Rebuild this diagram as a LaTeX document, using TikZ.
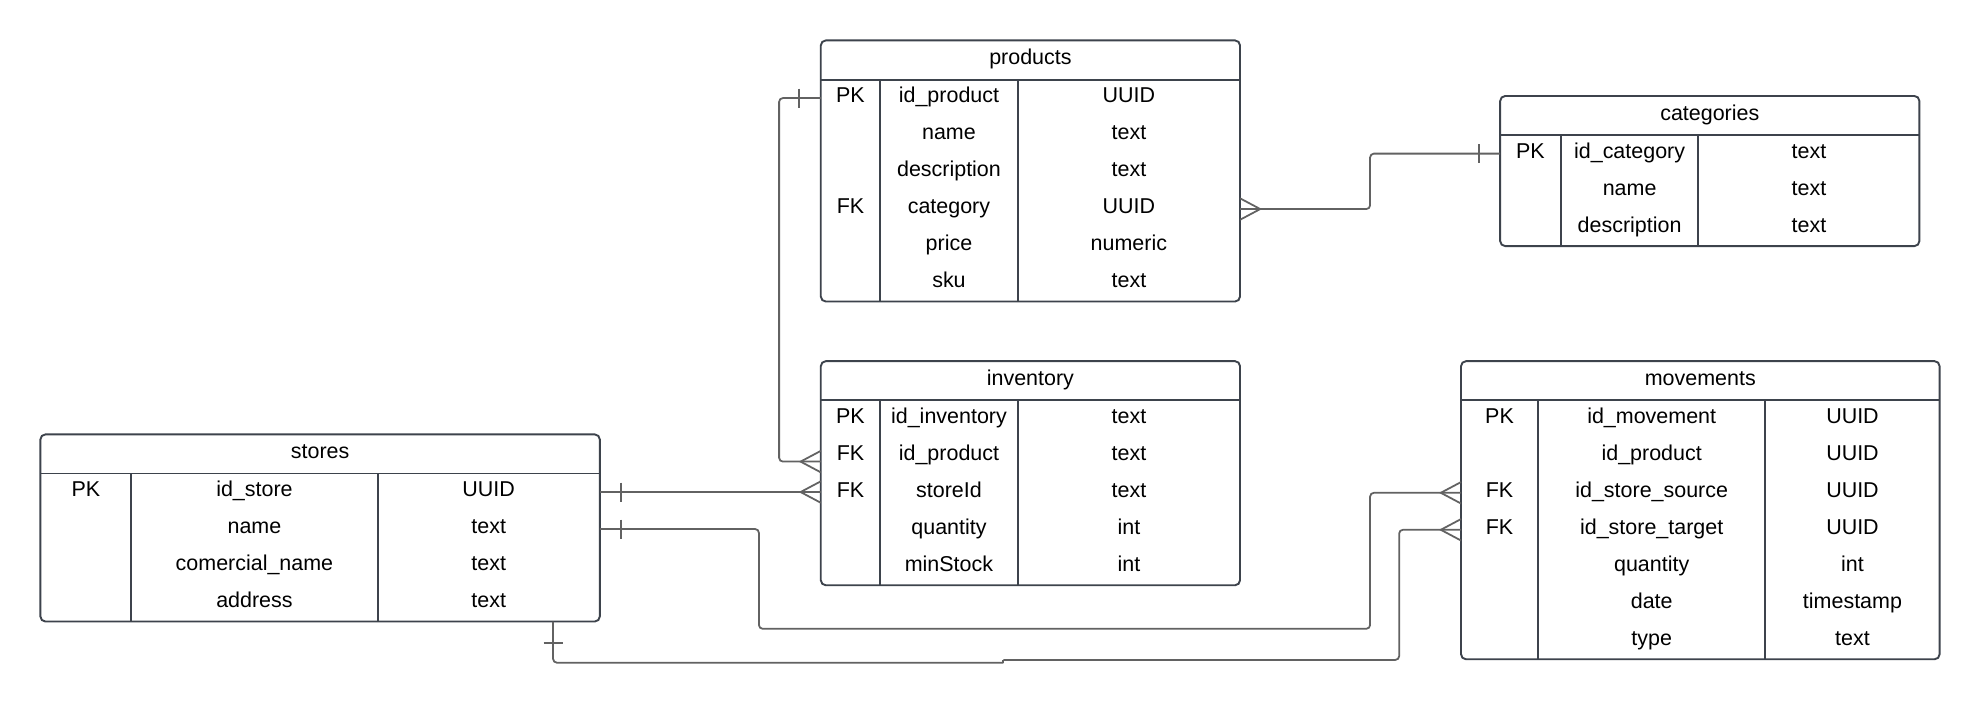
\documentclass[tikz,border=0pt]{standalone}
\usepackage{fontspec}
\setmainfont{Liberation Sans}
\usetikzlibrary{calc}
\definecolor{boxline}{HTML}{3D434C}
\definecolor{relline}{HTML}{626262}
\tikzset{
  tablebox/.style={draw=boxline, line width=1.5pt, rounded corners=4pt, inner sep=0pt, outer sep=0pt, fill=white},
  tableline/.style={draw=boxline, line width=1.5pt},
  celltext/.style={anchor=base, inner sep=0pt, font=\fontsize{17}{20}\selectfont, text=black},
  rel/.style={draw=relline, line width=1.4pt, rounded corners=3pt},
  relmark/.style={draw=relline, line width=1.4pt},
}
% #1 name, #2 x1, #3 y1, #4 x2, #5 col1, #6 col2, #7 title, #8 rows, #9 list
\newcommand\erdtable[9]{%
  \node[tablebox, anchor=north west, minimum width={#4-#2}, minimum height={31+#8*29.3}] (#1) at ({#2},{#3}) {};
  \draw[tableline] ({#2},{#3+31}) -- ({#4},{#3+31});
  \draw[tableline] ({#5},{#3+31}) -- ({#5},{#3+31+#8*29.3});
  \draw[tableline] ({#6},{#3+31}) -- ({#6},{#3+31+#8*29.3});
  \node[celltext] (#1-title) at ({(#2+#4)/2},{#3+15.5+3.8}) {#7};
  \foreach \colk/\colf/\colt [count=\i] in {#9} {
    \pgfmathsetmacro\yc{#3+31+(\i-0.5)*29.3}
    \coordinate (#1-w\i) at ({#2},\yc);
    \coordinate (#1-e\i) at ({#4},\yc);
    \node[celltext] (#1-k\i) at ({(#2+#5)/2},{\yc+3.6}) {\colk};
    \node[celltext] (#1-f\i) at ({(#5+#6)/2},{\yc+3.6}) {\colf};
    \node[celltext] (#1-t\i) at ({(#6+#4)/2},{\yc+3.6}) {\colt};
  }
}
% crow's foot: #1 point on box edge, #2 = 1 if box lies to the right, -1 if to the left
\newcommand\crowfoot[2]{%
  \draw[relmark] ([yshift=8.5]#1) -- ([xshift={0-(#2)*16}]#1) -- ([yshift=-8.5]#1);
}
% single bar: #1 point on box edge, #2 = -1 if box lies to the right, 1 if to the left
\newcommand\onetick[2]{%
  \draw[relmark] ([xshift={(#2)*17},yshift=7.5]#1) -- ([xshift={(#2)*17},yshift=-7.5]#1);
}
\begin{document}
\begin{tikzpicture}[x=1pt,y=-1pt]
  \fill[white] (0,0) rectangle (1568,556.7);
  \useasboundingbox (0,0) rectangle (1568,556.7);

  \erdtable{products}{650}{32}{982}{697}{806}{products}{6}{PK/id\_product/UUID, /name/text, /description/text, FK/category/UUID, /price/numeric, /sku/text}
  \erdtable{categories}{1188}{76}{1520}{1236}{1345}{categories}{3}{PK/id\_category/text, /name/text, /description/text}
  \erdtable{inventory}{650}{286}{982}{697}{806}{inventory}{5}{PK/id\_inventory/text, FK/id\_product/text, FK/storeId/text, /quantity/int, /minStock/int}
  \erdtable{stores}{32}{344}{475}{104}{299}{stores}{4}{PK/id\_store/UUID, /name/text, /comercial\_name/text, /address/text}
  \erdtable{movements}{1157}{286}{1536}{1218}{1398}{movements}{7}{PK/id\_movement/UUID, /id\_product/UUID, FK/id\_store\_source/UUID, FK/id\_store\_target/UUID, /quantity/int, /date/timestamp, /type/text}

  \coordinate (inventory-p) at ([yshift=-4.6]inventory-w2);
  \coordinate (stores-s) at (438,492.2);
  \coordinate (jogA) at (794.5,524.8);
  \coordinate (jogB) at (794.5,522.6);

  % products -> inventory
  \draw[rel] (products-w1) -- ++(-33,0) |- (inventory-p);
  \onetick{products-w1}{-1}
  \crowfoot{inventory-p}{1}

  % products -> categories
  \draw[rel] (products-e4) -- ++(103,0) |- (categories-w1);
  \crowfoot{products-e4}{-1}
  \onetick{categories-w1}{-1}

  % stores -> inventory
  \draw[rel] (stores-e1) -- (stores-e1 -| inventory-w3);
  \onetick{stores-e1}{1}
  \crowfoot{stores-e1 -| inventory-w3}{1}

  % stores -> movements (source)
  \draw[rel] (stores-e2) -- ++(126,0) -- ++(0,79) -| ([xshift=-72]movements-w3) -- (movements-w3);
  \onetick{stores-e2}{1}
  \crowfoot{movements-w3}{1}

  % stores -> movements (target)
  \draw[rel] (stores-s) |- (jogA);
  \draw[relmark] (jogA) -- (jogB);
  \draw[rel] (jogB) -| ([xshift=-49]movements-w4) -- (movements-w4);
  \draw[relmark] ([xshift=-7.5,yshift=-17]stores-s) -- ([xshift=7.5,yshift=-17]stores-s);
  \crowfoot{movements-w4}{1}
\end{tikzpicture}
\end{document}
